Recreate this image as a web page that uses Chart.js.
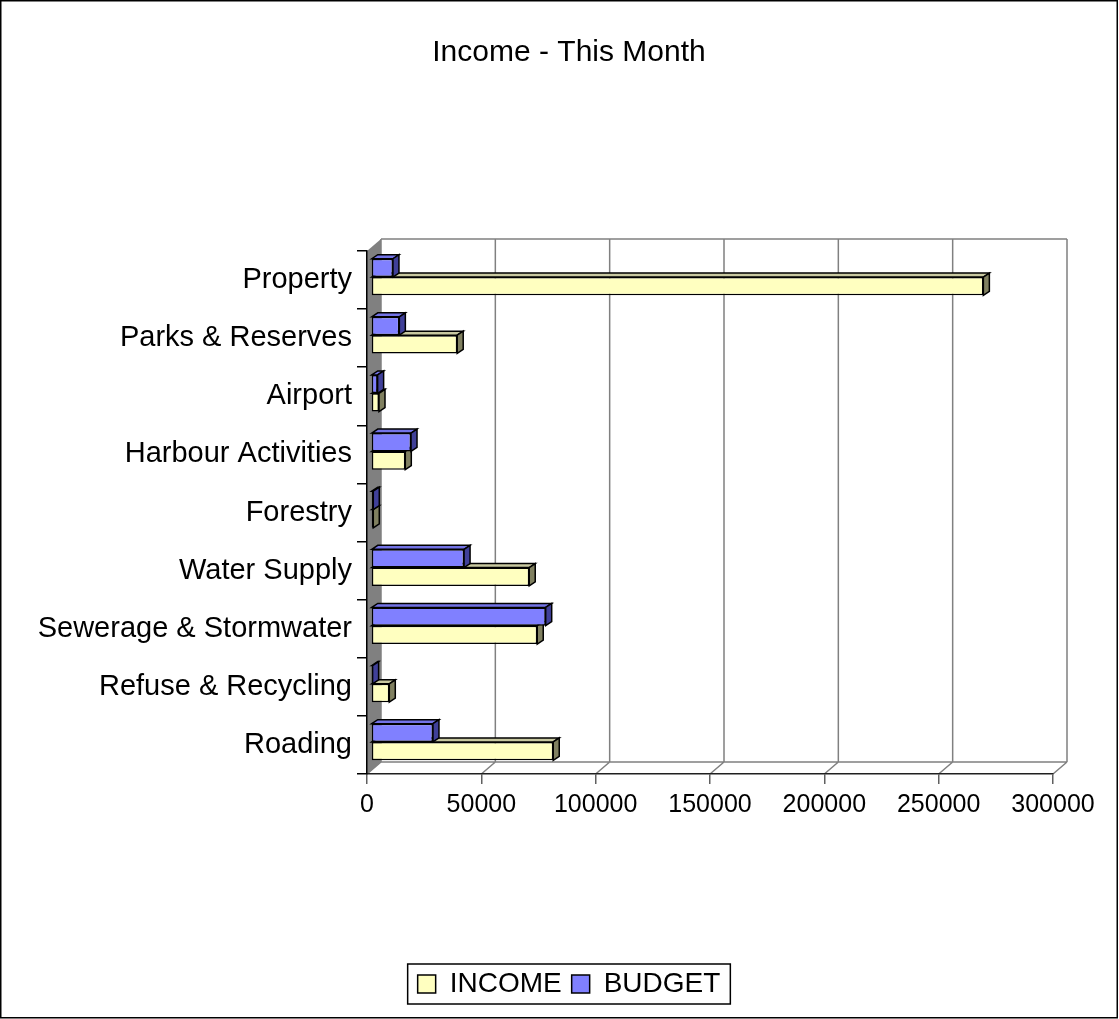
<!DOCTYPE html>
<html>
<head>
<meta charset="utf-8">
<script src="https://cdn.jsdelivr.net/npm/chart.js"></script>
<style>
  html, body { margin: 0; padding: 0; background: #fff; }
  #wrap { width: 1119px; height: 1019px; }
</style>
</head>
<body>
<div id="wrap"><canvas id="myChart"></canvas></div>
<script>
// data
const categories = ['Property', 'Parks & Reserves', 'Airport', 'Harbour Activities', 'Forestry',
  'Water Supply', 'Sewerage & Stormwater', 'Refuse & Recycling', 'Roading'];
const income = [267800, 37700, 3500, 15000, 1000, 69200, 72700, 8000, 79700];
const budget = [9600, 12400, 2900, 17500, 1000, 40700, 76400, 700, 27100];
const xMin = 0, xMax = 300000, xStep = 50000;

Chart.defaults.font.family = 'Liberation Sans, Arial, sans-serif';
Chart.defaults.color = '#000';

// 3D look: walls, back gridlines and bar faces
const box3d = {
  id: 'box3d',
  afterLayout(chart) {
    // title and legend are centred a bit right of the canvas middle
    chart.titleBlock.left = 85;
    chart.legend.left = 85;
  },
  beforeDraw(chart) {
    const ctx = chart.ctx, a = chart.chartArea, x = chart.scales.x;
    const dx = 14, dy = -12;
    ctx.save();
    ctx.fillStyle = '#fff';
    ctx.fillRect(0, 0, chart.width, chart.height);
    // left wall
    ctx.fillStyle = '#808080';
    ctx.beginPath();
    ctx.moveTo(a.left, a.top);
    ctx.lineTo(a.left + dx, a.top + dy);
    ctx.lineTo(a.left + dx, a.bottom + dy);
    ctx.lineTo(a.left, a.bottom);
    ctx.closePath();
    ctx.fill();
    ctx.strokeStyle = '#808080';
    ctx.lineWidth = 1.5;
    ctx.beginPath();
    ctx.moveTo(a.left + dx, a.top + dy);
    ctx.lineTo(a.right + dx, a.top + dy);
    ctx.moveTo(a.left + dx, a.bottom + dy);
    ctx.lineTo(a.right + dx, a.bottom + dy);
    x.ticks.forEach(t => {
      const px = x.getPixelForValue(t.value);
      ctx.moveTo(px + dx, a.top + dy);
      ctx.lineTo(px + dx, a.bottom + dy);
      ctx.moveTo(px, a.bottom);
      ctx.lineTo(px + dx, a.bottom + dy);
    });
    ctx.stroke();
    ctx.restore();
  },
  beforeDatasetsDraw(chart) {
    const ctx = chart.ctx;
    ctx.save();
    ctx.translate(4, -3);
    for (let i = chart.data.datasets.length - 1; i >= 0; i--) {
      const ds = chart.data.datasets[i];
      chart.getDatasetMeta(i).data.forEach(el => {
        const p = el.getProps(['x', 'y', 'base', 'height'], true);
        const l = Math.min(p.x, p.base), r = Math.max(p.x, p.base);
        const t = p.y - p.height / 2, b = p.y + p.height / 2;
        const dx = 6, dy = -4;
        ctx.lineWidth = 1.5;
        ctx.strokeStyle = '#000';
        ctx.fillStyle = ds.topColor;
        ctx.beginPath();
        ctx.moveTo(l, t); ctx.lineTo(l + dx, t + dy); ctx.lineTo(r + dx, t + dy); ctx.lineTo(r, t);
        ctx.closePath(); ctx.fill(); ctx.stroke();
        ctx.fillStyle = ds.sideColor;
        ctx.beginPath();
        ctx.moveTo(r, t); ctx.lineTo(r + dx, t + dy); ctx.lineTo(r + dx, b + dy); ctx.lineTo(r, b);
        ctx.closePath(); ctx.fill(); ctx.stroke();
      });
    }
  },
  afterDatasetsDraw(chart) {
    chart.ctx.restore();
  },
  afterDraw(chart) {
    const ctx = chart.ctx;
    const hb = chart.legend.legendHitBoxes;
    ctx.save();
    ctx.strokeStyle = '#000';
    ctx.lineWidth = 1.5;
    if (hb && hb.length) {
      const l = Math.min(...hb.map(h => h.left)), r = Math.max(...hb.map(h => h.left + h.width));
      const t = Math.min(...hb.map(h => h.top)), b = Math.max(...hb.map(h => h.top + h.height));
      ctx.strokeRect(l - 10, t - 6, r - l + 20, b - t + 12);
    }
    ctx.strokeRect(0.75, 0.75, 1116.5, 1017);
    ctx.restore();
  }
};

const data = {
  labels: categories,
  datasets: [{
    label: 'BUDGET',
    data: budget,
    backgroundColor: '#8080FF',
    topColor: '#7373E6',
    sideColor: '#404099',
    borderColor: '#000',
    borderWidth: 1.5,
    borderSkipped: false,
    clip: false
  }, {
    label: 'INCOME',
    data: income,
    backgroundColor: '#FFFFC0',
    topColor: '#C8C8A0',
    sideColor: '#808060',
    borderColor: '#000',
    borderWidth: 1.5,
    borderSkipped: false,
    clip: false
  }]
};

const config = {
  type: 'bar',
  data: data,
  options: {
    indexAxis: 'y',
    responsive: true,
    maintainAspectRatio: false,
    animation: false,
    datasets: {
      bar: { barPercentage: 1, categoryPercentage: 0.63 }
    },
    layout: { padding: { left: 0, right: 66, top: 0, bottom: 11 } },
    scales: {
      x: {
        min: xMin,
        max: xMax,
        ticks: {
          stepSize: xStep,
          padding: 6,
          font: { size: 25 },
          callback: v => String(v)
        },
        grid: { drawOnChartArea: false, drawTicks: true, tickLength: 10, color: '#606060', lineWidth: 1.5 },
        border: { display: true, color: '#202020', width: 1.5 },
        afterFit: s => { s.height = 186; }
      },
      y: {
        ticks: { autoSkip: false, padding: 5, font: { size: 29 } },
        grid: { offset: true, drawOnChartArea: false, drawTicks: true, tickLength: 10, color: '#000', lineWidth: 1.5 },
        border: { display: true, color: '#000', width: 1.5 },
        afterFit: s => { s.width = 367; }
      }
    },
    plugins: {
      title: {
        display: true,
        text: 'Income - This Month',
        font: { size: 30, weight: 'normal' },
        color: '#000',
        padding: { top: 35, bottom: 180 }
      },
      legend: {
        position: 'bottom',
        reverse: true,
        labels: { boxWidth: 18, boxHeight: 18, padding: 10, font: { size: 28 }, color: '#000' }
      },
      tooltip: { enabled: false }
    }
  },
  plugins: [box3d]
};

const myChart = new Chart(document.getElementById('myChart'), config);
</script>
</body>
</html>
